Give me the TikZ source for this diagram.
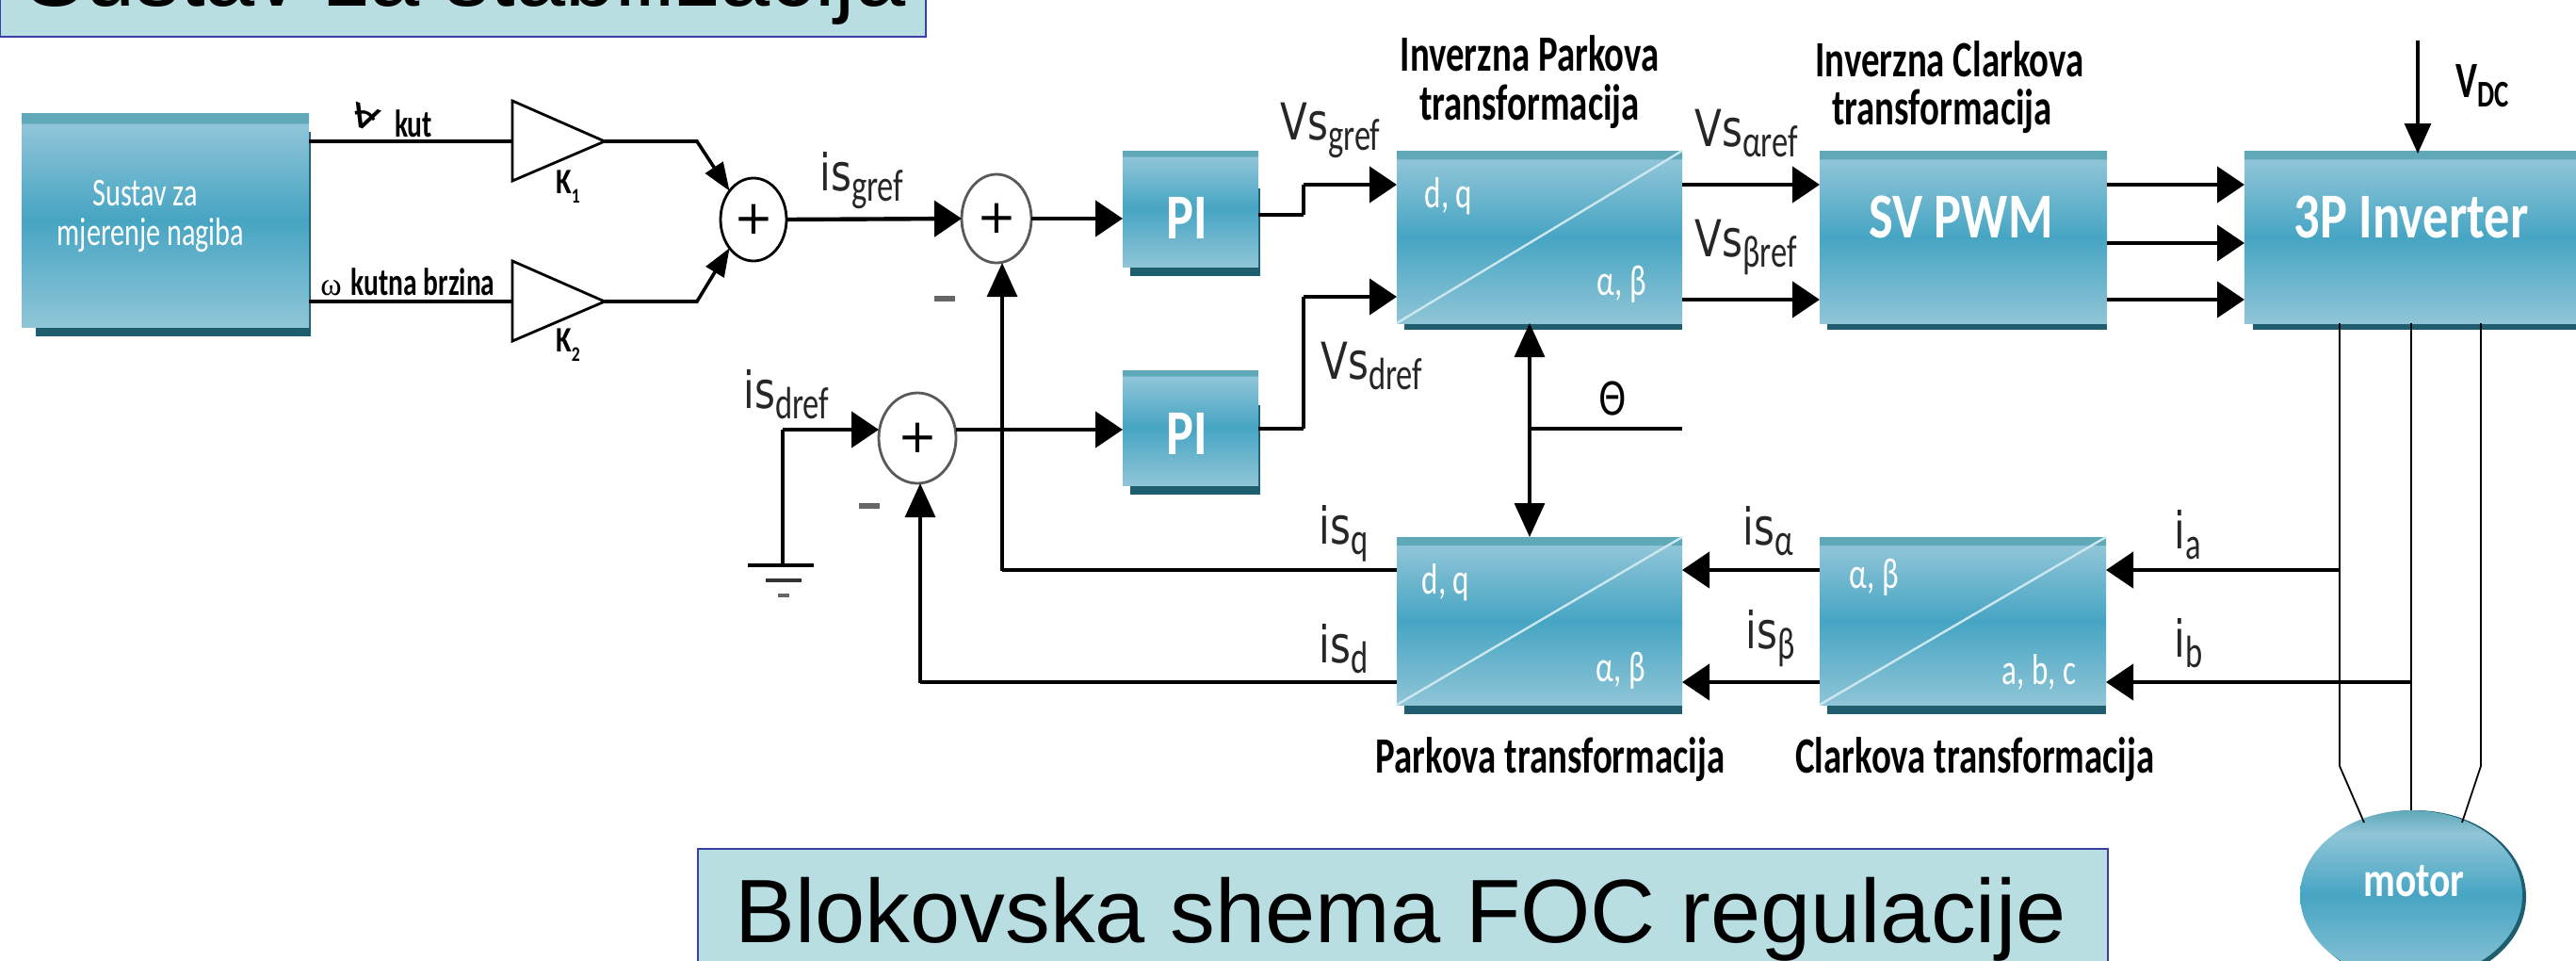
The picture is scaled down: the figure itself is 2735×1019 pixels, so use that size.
\documentclass[tikz,border=0pt]{standalone}
\usepackage{fontspec}
\usepackage{graphicx}
\usetikzlibrary{arrows.meta,fit,shapes.geometric}
\setmainfont{Liberation Sans}
\newfontfamily\cond[FakeStretch=0.8]{Carlito}
\newfontfamily\condn[FakeStretch=0.72]{Carlito}
\newfontfamily\symf{DejaVu Sans}
\newfontfamily\symn[FakeStretch=0.78]{DejaVu Sans}
\newfontfamily\serf{Liberation Serif}
\newcommand\lab[2]{{\fontsize{27}{27}\selectfont\symn #1\raisebox{-5.5pt}{\fontsize{24}{24}\selectfont\condn #2}}}
\definecolor{gtop}{HTML}{90C5D8}
\definecolor{gmid}{HTML}{46A5C3}
\definecolor{gbot}{HTML}{8FC5D7}
\definecolor{gstrip}{HTML}{5FA8B8}
\definecolor{shad}{HTML}{1E5E6E}
\definecolor{titlef}{HTML}{B8DEE2}
\definecolor{titled}{HTML}{3A3FA6}
\definecolor{diagc}{HTML}{CDE7EE}
\pgfdeclareverticalshading{boxg}{100bp}{color(0bp)=(gbot);color(25bp)=(gbot);color(50bp)=(gmid);color(72.5bp)=(gtop);color(72.6bp)=(gstrip);color(75bp)=(gstrip);color(100bp)=(gstrip)}
\pgfdeclareverticalshading{ellg}{100bp}{color(0bp)=(gbot);color(25bp)=(gbot);color(50bp)=(gmid);color(68bp)=(gtop);color(75bp)=(gstrip);color(100bp)=(gstrip)}
\tikzset{
  blk/.style={shading=boxg,inner sep=0pt,outer sep=0pt},
  shd/.style={fill=shad,draw=none},
  titlebox/.style={fill=titlef,draw=titled,line width=1pt,inner sep=0pt,outer sep=0pt},
  titletext/.style={font=\fontsize{47.8}{49}\selectfont,anchor=base west,inner sep=0pt,text=black},
  wh/.style={text=white,font=\fontsize{23}{23}\selectfont\condn,inner sep=0pt},
  whs/.style={text=white,font=\fontsize{21}{21}\selectfont\condn,inner sep=0pt},
  whbig/.style={text=white,font=\fontsize{34}{34}\selectfont\cond\bfseries,inner sep=0pt},
  blab/.style={text=black,font=\fontsize{27}{27}\selectfont\condn\bfseries,inner sep=0pt},
  clab/.style={text=black,font=\fontsize{20.5}{21}\selectfont\condn\bfseries,inner sep=0pt},
  slab/.style={text=black,font=\fontsize{19}{19}\selectfont\cond\bfseries,inner sep=0pt},
  ilab/.style={text=black!85,inner sep=0pt,anchor=base west},
  wire/.style={draw=black,line width=2.2pt},
  vwire/.style={draw=black,line width=1.6pt},
  thinw/.style={draw=black,line width=0.9pt},
  arrh/.style={wire,-{Triangle[length=14.5pt,width=19pt]}},
  arrv/.style={vwire,-{Triangle[length=18pt,width=16pt]}},
  arrd/.style={wire,line width=1.8pt,-{Triangle[length=15pt,width=11pt]}},
  diag/.style={draw=diagc,line width=1.2pt},
  amp/.style={draw=black,fill=white,line width=1.4pt,line join=miter},
  sumc/.style={ellipse,draw=black,fill=white,line width=1.4pt,inner sep=0pt,outer sep=0pt,font=\fontsize{25}{25}\selectfont\symf},
  sumg/.style={sumc,draw=black!65},
  minusm/.style={fill=black!60,draw=none},
}
\begin{document}
\begin{tikzpicture}[x=0.5pt,y=-0.5pt]
\path[use as bounding box,clip] (0,0) rectangle (2735,1019);
\fill[white] (0,0) rectangle (2735,1019);

% title boxes
\node (t1) [titlebox,fit={(0,-40) (983,39)}] {};
\node (t1x) [titletext] at (26,6) {Sustav za stabilizacija};
\node (t2) [titlebox,fit={(741,901) (2238,1040)}] {};
\node (t2x) [titletext] at (780,1000) {Blokovska shema FOC regulacije};

% shadows
\fill[shd] (38,140) rectangle (330,357);
\fill[shd] (1200,200) rectangle (1338,293);
\fill[shd] (1200,430) rectangle (1338,525);
\fill[shd] (1491,200) rectangle (1786,350);
\fill[shd] (1940,200) rectangle (2237,350);
\fill[shd] (2392,200) rectangle (2735,350);
\fill[shd] (1491,600) rectangle (1786,758);
\fill[shd] (1940,600) rectangle (2236,758);

% blocks
\node (sys) [blk,fit={(23,120) (328,347)}] {};
\node (pi1) [blk,fit={(1192,160) (1336,283)}] {};
\node (pi2) [blk,fit={(1192,393) (1336,515)}] {};
\node (ipk) [blk,fit={(1483,160) (1786,343)}] {};
\node (svm) [blk,fit={(1932,160) (2237,343)}] {};
\node (inv) [blk,fit={(2383,160) (2745,343)}] {};
\node (pk)  [blk,fit={(1483,570) (1786,748)}] {};
\node (clk) [blk,fit={(1932,570) (2236,748)}] {};
\draw[diag] (ipk.south west) -- (ipk.north east);
\draw[diag] (pk.south west) -- (pk.north east);
\draw[diag] (clk.south west) -- (clk.north east);

% motor
\fill[shad] (2564,952) ellipse [x radius=118,y radius=92];
\node (mot) [ellipse,shading=ellg,inner sep=0pt,outer sep=0pt,minimum width=118pt,minimum height=90pt] at (2560,950) {};

% block texts
\node (a1) [whs] at (154,205) {Sustav za};
\node (a2) [whs] at (160,250) {mjerenje nagiba};
\node (a3) [whbig] at (1260,231) {PI};
\node (a4) [whbig] at (1260,460) {PI};
\node (a5) [whbig] at (2082,230) {SV PWM};
\node (a6) [whbig] at (2560,230) {3P Inverter};
\node (a7) [wh] at (1538,208) {d, q};
\node (a8) [wh] at (1722,302) {α, β};
\node (a9) [wh] at (1535,618) {d, q};
\node (a10) [wh] at (1721,712) {α, β};
\node (a11) [wh] at (1990,613) {α, β};
\node (a12) [wh] at (2165,713) {a, b, c};
\node (a13) [whbig,font=\fontsize{26}{26}\selectfont\cond\bfseries] at (2563,935) {motor};

% gains
\coordinate (k1a) at (544,107); \coordinate (k1b) at (544,192); \coordinate (k1t) at (642,150);
\coordinate (k2a) at (544,277); \coordinate (k2b) at (544,362); \coordinate (k2t) at (642,320);
\coordinate (k1i) at (544,150); \coordinate (k2i) at (544,320);
\draw[amp] (k1a) -- (k1t) -- (k1b) -- cycle;
\draw[amp] (k2a) -- (k2t) -- (k2b) -- cycle;

% summers
\node (s1) [sumc,minimum width=35pt,minimum height=44pt] at (800,233) {+};
\node (s2) [sumg,minimum width=37pt,minimum height=47pt] at (1058,232) {+};
\node (s3) [sumg,minimum width=41pt,minimum height=48pt] at (974,465) {+};

% bend points
\coordinate (b1) at (740,150);
\coordinate (b2) at (740,320);
\coordinate (g0) at (831,456);
\coordinate (g1) at (831,600);
\coordinate (gl1) at (794,600); \coordinate (gr1) at (864,600);
\coordinate (gl2) at (813,616); \coordinate (gr2) at (851,616);
\coordinate (gl3) at (826,632); \coordinate (gr3) at (838,632);
\coordinate (th) at (1786,455);
\coordinate (vd) at (2567,43);
\coordinate (lm1) at (2484,813); \coordinate (lm2) at (2560,813); \coordinate (lm3) at (2634,813);
\coordinate (mt1) at (2510,873); \coordinate (mt3) at (2614,873);

% wires left
\draw[wire] (sys.east |- k1i) -- (k1i);
\draw[wire] (sys.east |- k2i) -- (k2i);
\draw[arrd] (k1t) -- (b1) -- (s1.130);
\draw[arrd] (k2t) -- (b2) -- (s1.230);
\draw[arrh] (s1.east) -- (s2.west);
\draw[arrh] (s2.east) -- (pi1.west |- s2.east);
\draw[arrh] (s3.east |- g0) -- (pi2.west |- g0);
\draw[arrh] (g0) -- (s3.west |- g0);
\draw[vwire] (g0) -- (g1);
\draw[vwire,line width=1.7pt] (gl1) -- (gr1);
\draw[vwire,line width=1.7pt,draw=black!80] (gl2) -- (gr2);
\draw[vwire,line width=1.7pt,draw=black!60] (gl3) -- (gr3);

% PI to inverse Park
\draw[wire] (pi1.east |- 0,228) -- (1384,228);
\draw[vwire] (1384,228) -- (1384,196);
\draw[arrh] (1384,196) -- (ipk.west |- 0,196);
\draw[wire] (pi2.east |- 0,455) -- (1384,455);
\draw[vwire] (1384,455) -- (1384,315);
\draw[arrh] (1384,315) -- (ipk.west |- 0,315);

% inverse Park to SV to inverter
\draw[arrh] (ipk.east |- 0,196) -- (svm.west |- 0,196);
\draw[arrh] (ipk.east |- 0,318) -- (svm.west |- 0,318);
\draw[arrh] (svm.east |- 0,196) -- (inv.west |- 0,196);
\draw[arrh] (svm.east |- 0,258) -- (inv.west |- 0,258);
\draw[arrh] (svm.east |- 0,318) -- (inv.west |- 0,318);
\draw[vwire,-{Triangle[length=16pt,width=14pt]}] (vd) -- (2567,163);

% theta
\draw[vwire,{Triangle[length=18pt,width=16pt]}-{Triangle[length=18pt,width=16pt]}] (1624,343) -- (1624,570);
\draw[wire] (1624,455) -- (th);

% feedback
\draw[wire] (pk.west |- 0,605) -- (1064,605);
\draw[arrv] (1064,606) -- (s2.south -| 1064,0);
\draw[wire] (pk.west |- 0,724) -- (977,724);
\draw[arrv] (977,725) -- (s3.south -| 977,0);
\draw[arrh] (clk.west |- 0,605) -- (pk.east |- 0,605);
\draw[arrh] (clk.west |- 0,724) -- (pk.east |- 0,724);
\draw[arrh] (lm1 |- 0,605) -- (clk.east |- 0,605);
\draw[arrh] (lm2 |- 0,724) -- (clk.east |- 0,724);

% three phase
\draw[thinw] (inv.south -| lm1) -- (lm1) -- (mt1);
\draw[thinw] (inv.south -| lm2) -- (lm2) -- (mot.north);
\draw[thinw] (inv.south -| lm3) -- (lm3) -- (mt3);

% minus marks
\fill[minusm] (992,314) rectangle (1014,320);
\fill[minusm] (912,534) rectangle (934,540);

% labels
\node (l1) [clab,anchor=west] at (368,125) {{\symf\fontsize{20}{20}\selectfont\rotatebox{70}{∢}}\hspace{6pt}kut};
\node (l2) [clab,anchor=west] at (340,299) {{\serf\mdseries\fontsize{17}{17}\selectfont ω}\hspace{5pt}kutna brzina};
\node (l3) [slab] at (603,198) {K\raisebox{-0.25em}{\fontsize{11}{11}\selectfont 1}};
\node (l4) [slab] at (603,366) {K\raisebox{-0.25em}{\fontsize{11}{11}\selectfont 2}};
\node (n1) [blab] at (1624,57) {Inverzna Parkova};
\node (n2) [blab] at (1624,113) {transformacija};
\node (n3) [blab] at (2070,63) {Inverzna Clarkova};
\node (n4) [blab] at (2062,118) {transformacija};
\node (n5) [blab] at (1646,806) {Parkova transformacija};
\node (n6) [blab] at (2097,806) {Clarkova transformacija};
\node (i1) [ilab] at (870,202) {\lab{is}{gref}};
\node (i2) [ilab] at (789,433) {\lab{is}{dref}};
\node (i3) [ilab] at (1359,148) {\lab{Vs}{gref}};
\node (i4) [ilab] at (1402,402) {\lab{Vs}{dref}};
\node (i5) [ilab] at (1799,155) {\lab{Vs}{αref}};
\node (i6) [ilab] at (1799,272) {\lab{Vs}{βref}};
\node (i7) [ilab] at (1400,577) {\lab{is}{q}};
\node (i8) [ilab] at (1400,703) {\lab{is}{d}};
\node (i9) [ilab] at (1850,578) {\lab{is}{α}};
\node (i10) [ilab] at (1853,688) {\lab{is}{β}};
\node (i11) [ilab] at (2308,582) {\lab{i}{a}};
\node (i12) [ilab] at (2308,697) {\lab{i}{b}};
\node (v1) [blab,anchor=base west] at (2607,103) {V\raisebox{-5pt}{\fontsize{20}{20}\selectfont DC}};
\node (th1) [text=black,inner sep=0pt,font=\fontsize{24}{24}\selectfont\symn] at (1712,423) {Θ};
\end{tikzpicture}
\end{document}
